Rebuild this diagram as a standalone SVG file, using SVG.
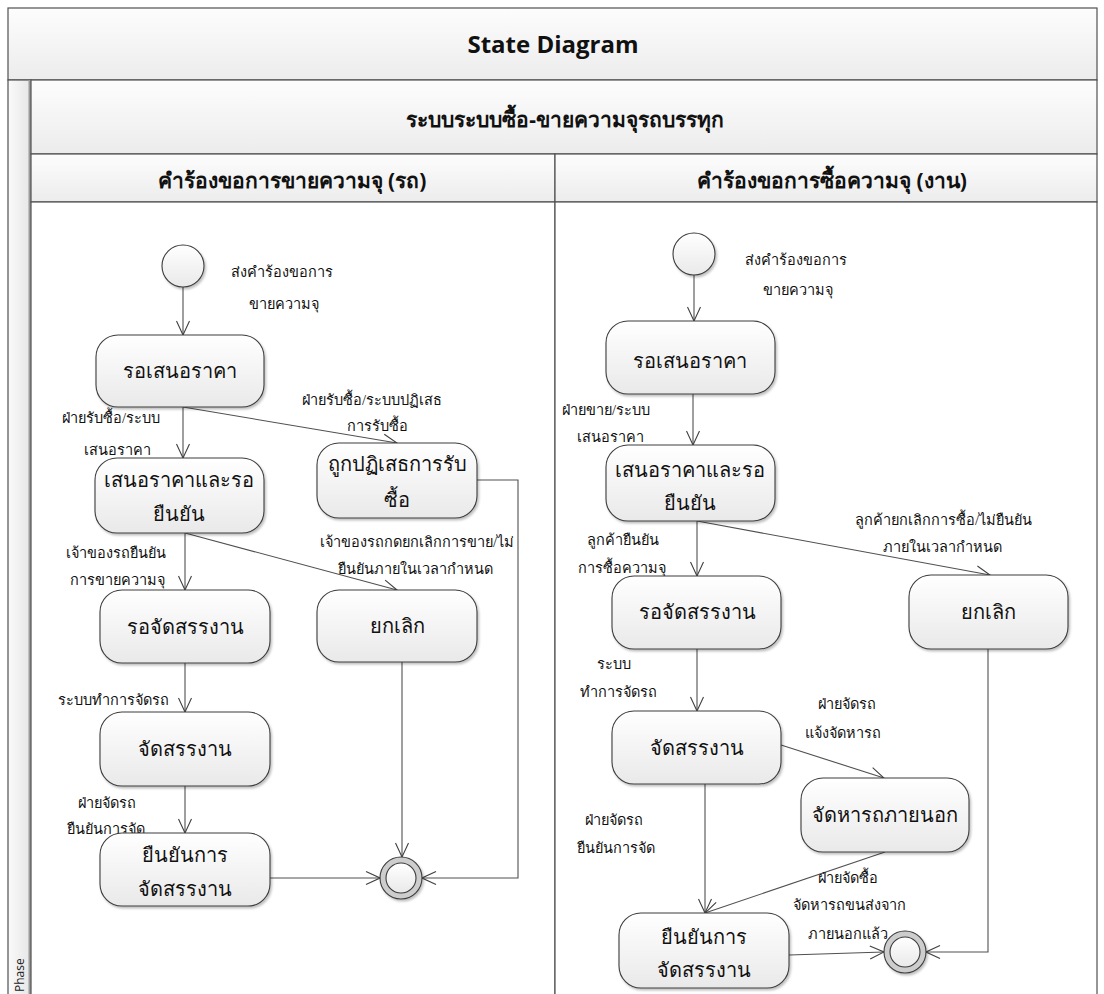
<svg xmlns="http://www.w3.org/2000/svg" width="1104" height="994" viewBox="0 0 1104 994">
  <defs>
    <linearGradient id="bandFill" x1="0" y1="0" x2="0" y2="1">
      <stop offset="0" stop-color="#fdfdfd"/>
      <stop offset="1" stop-color="#ececec"/>
    </linearGradient>
    <linearGradient id="sideFill" x1="0" y1="0" x2="1" y2="0">
      <stop offset="0" stop-color="#fafafa"/>
      <stop offset="1" stop-color="#e6e6e6"/>
    </linearGradient>
    <linearGradient id="stateFill" x1="0" y1="0" x2="0" y2="1">
      <stop offset="0" stop-color="#ffffff"/>
      <stop offset="1" stop-color="#e9e9e9"/>
    </linearGradient>
    <filter id="shadow" x="-10%" y="-10%" width="125%" height="130%">
      <feDropShadow dx="1.5" dy="2" stdDeviation="1.2" flood-color="#000" flood-opacity="0.25"/>
    </filter>
    <marker id="arrow" viewBox="0 0 16 16" refX="15" refY="8" markerWidth="16" markerHeight="16" markerUnits="userSpaceOnUse" orient="auto">
      <path d="M1,1.5 L15,8 L1,14.5" fill="none" stroke="#404040" stroke-width="1.1"/>
    </marker>
  </defs>
  <style>
    .band { fill: url(#bandFill); stroke: #505050; stroke-width: 1.2; }
    .lane { fill: #ffffff; stroke: #505050; stroke-width: 1.2; }
    .state { fill: url(#stateFill); stroke: #3c3c3c; stroke-width: 1.1; filter: url(#shadow); }
    .init { fill: url(#stateFill); stroke: #3c3c3c; stroke-width: 1.1; filter: url(#shadow); }
    .fin-outer { fill: #cdcdcd; stroke: #3c3c3c; stroke-width: 1.1; filter: url(#shadow); }
    .fin-inner { fill: url(#stateFill); stroke: #3c3c3c; stroke-width: 1.1; }
    .edge { fill: none; stroke: #505050; stroke-width: 1.1; marker-end: url(#arrow); }
    .title { font-family: "Open Sans", "Noto Sans", "Liberation Sans", sans-serif; font-weight: bold; font-size: 24px; fill: #111; text-anchor: middle; }
    .head { font-family: "Noto Sans", "Liberation Sans", sans-serif; font-weight: bold; font-size: 21px; fill: #111; text-anchor: middle; }
    .name { font-family: "Liberation Serif", "Noto Sans", serif; font-size: 20px; fill: #111; text-anchor: middle; }
    .lbl { font-family: "Liberation Serif", "Noto Sans", serif; font-size: 14.5px; fill: #111; }
    .phase { font-family: "Open Sans", "Noto Sans", sans-serif; font-size: 12px; fill: #222; }
  </style>

  <!-- swimlane frame -->
  <g id="frame">
    <rect class="band" x="8" y="8" width="1089" height="72"/>
    <rect x="8" y="80" width="23" height="920" fill="url(#sideFill)" stroke="#505050" stroke-width="1.2"/>
    <rect x="28.5" y="80" width="3" height="920" fill="#9a9a9a"/>
    <rect class="band" x="31" y="80" width="1066" height="74"/>
    <rect class="band" x="31" y="154" width="524" height="48"/>
    <rect class="band" x="555" y="154" width="542" height="48"/>
    <rect class="lane" x="31" y="202" width="524" height="800"/>
    <rect class="lane" x="555" y="202" width="542" height="800"/>
    <text class="title" x="553" y="53">State Diagram</text>
    <text class="head" x="565" y="127">ระบบระบบซื้อ-ขายความจุรถบรรทุก</text>
    <text class="head" x="292" y="188">คำร้องขอการขายความจุ (รถ)</text>
    <text class="head" x="832" y="188">คำร้องขอการซื้อความจุ (งาน)</text>
    <text class="phase" transform="translate(24,992) rotate(-90)">Phase</text>
  </g>

  <!-- transitions -->
  <g id="connectors">
    <!-- seller lane -->
    <line class="edge" x1="183" y1="287" x2="183" y2="335"/>
    <line class="edge" x1="183" y1="407" x2="183" y2="458"/>
    <line class="edge" x1="183" y1="407" x2="397" y2="443"/>
    <polyline class="edge" points="477,480 518,480 518,878 422,878"/>
    <line class="edge" x1="185" y1="533" x2="185" y2="590"/>
    <line class="edge" x1="185" y1="533" x2="397" y2="590"/>
    <line class="edge" x1="185" y1="663" x2="185" y2="712"/>
    <line class="edge" x1="185" y1="786" x2="185" y2="833"/>
    <line class="edge" x1="270" y1="878" x2="380" y2="878"/>
    <line class="edge" x1="402" y1="662" x2="402" y2="857"/>
    <!-- buyer lane -->
    <line class="edge" x1="694" y1="275" x2="694" y2="321"/>
    <line class="edge" x1="693" y1="394" x2="693" y2="445"/>
    <line class="edge" x1="697" y1="521" x2="697" y2="576"/>
    <line class="edge" x1="697" y1="521" x2="990" y2="575"/>
    <line class="edge" x1="697" y1="649" x2="697" y2="711"/>
    <line class="edge" x1="781" y1="745" x2="884" y2="778"/>
    <line class="edge" x1="705" y1="784" x2="705" y2="913"/>
    <line class="edge" x1="885" y1="852" x2="705" y2="913"/>
    <line class="edge" x1="789" y1="955" x2="884" y2="952"/>
    <polyline class="edge" points="988,649 988,952 926,952"/>
  </g>

  <!-- transition labels -->
  <g id="labels" class="lbl">
    <text x="231" y="277">ส่งคำร้องขอการ</text>
    <text x="249" y="309">ขายความจุ</text>
    <text x="62" y="423">ฝ่ายรับซื้อ/ระบบ</text>
    <text x="84" y="455">เสนอราคา</text>
    <text x="302" y="405">ฝ่ายรับซื้อ/ระบบปฏิเสธ</text>
    <text x="347" y="431">การรับซื้อ</text>
    <text x="66" y="558">เจ้าของรถยืนยัน</text>
    <text x="70" y="585">การขายความจุ</text>
    <text x="320" y="547">เจ้าของรถกดยกเลิกการขาย/ไม่</text>
    <text x="338" y="574">ยืนยันภายในเวลากำหนด</text>
    <text x="58" y="705">ระบบทำการจัดรถ</text>
    <text x="78" y="808">ฝ่ายจัดรถ</text>
    <text x="67" y="834">ยืนยันการจัด</text>

    <text x="745" y="265">ส่งคำร้องขอการ</text>
    <text x="763" y="295">ขายความจุ</text>
    <text x="562" y="415">ฝ่ายขาย/ระบบ</text>
    <text x="577" y="442">เสนอราคา</text>
    <text x="587" y="545">ลูกค้ายืนยัน</text>
    <text x="578" y="573">การซื้อความจุ</text>
    <text x="855" y="525">ลูกค้ายกเลิกการซื้อ/ไม่ยืนยัน</text>
    <text x="883" y="552">ภายในเวลากำหนด</text>
    <text x="597" y="669">ระบบ</text>
    <text x="580" y="697">ทำการจัดรถ</text>
    <text x="818" y="709">ฝ่ายจัดรถ</text>
    <text x="805" y="738">แจ้งจัดหารถ</text>
    <text x="585" y="825">ฝ่ายจัดรถ</text>
    <text x="577" y="853">ยืนยันการจัด</text>
    <text x="818" y="883">ฝ่ายจัดซื้อ</text>
    <text x="793" y="910">จัดหารถขนส่งจาก</text>
    <text x="808" y="939">ภายนอกแล้ว</text>
  </g>

  <!-- seller lane states -->
  <g id="s-start"><circle class="init" cx="183" cy="266" r="21"/></g>
  <g id="s-wait-quote">
    <rect class="state" x="96" y="335" width="168" height="72" rx="22"/>
    <text class="name" x="180" y="378">รอเสนอราคา</text>
  </g>
  <g id="s-quoted">
    <rect class="state" x="95" y="458" width="169" height="75" rx="22"/>
    <text class="name" x="179" y="487">เสนอราคาและรอ</text>
    <text class="name" x="179" y="521">ยืนยัน</text>
  </g>
  <g id="s-rejected">
    <rect class="state" x="317" y="443" width="160" height="75" rx="22"/>
    <text class="name" x="397" y="471">ถูกปฏิเสธการรับ</text>
    <text class="name" x="397" y="507">ซื้อ</text>
  </g>
  <g id="s-wait-assign">
    <rect class="state" x="100" y="590" width="170" height="73" rx="22"/>
    <text class="name" x="185" y="634">รอจัดสรรงาน</text>
  </g>
  <g id="s-cancel">
    <rect class="state" x="317" y="590" width="160" height="72" rx="22"/>
    <text class="name" x="397" y="633">ยกเลิก</text>
  </g>
  <g id="s-assign">
    <rect class="state" x="100" y="712" width="170" height="74" rx="22"/>
    <text class="name" x="185" y="756">จัดสรรงาน</text>
  </g>
  <g id="s-confirm">
    <rect class="state" x="100" y="833" width="170" height="73" rx="22"/>
    <text class="name" x="185" y="862">ยืนยันการ</text>
    <text class="name" x="185" y="896">จัดสรรงาน</text>
  </g>
  <g id="s-end">
    <circle class="fin-outer" cx="401" cy="878" r="21"/>
    <circle class="fin-inner" cx="401" cy="878" r="15"/>
  </g>

  <!-- buyer lane states -->
  <g id="b-start"><circle class="init" cx="694" cy="254" r="21"/></g>
  <g id="b-wait-quote">
    <rect class="state" x="606" y="321" width="169" height="73" rx="22"/>
    <text class="name" x="690" y="368">รอเสนอราคา</text>
  </g>
  <g id="b-quoted">
    <rect class="state" x="606" y="445" width="169" height="76" rx="22"/>
    <text class="name" x="690" y="477">เสนอราคาและรอ</text>
    <text class="name" x="690" y="510">ยืนยัน</text>
  </g>
  <g id="b-wait-assign">
    <rect class="state" x="612" y="576" width="169" height="73" rx="22"/>
    <text class="name" x="697" y="619">รอจัดสรรงาน</text>
  </g>
  <g id="b-cancel">
    <rect class="state" x="909" y="575" width="159" height="74" rx="22"/>
    <text class="name" x="988" y="619">ยกเลิก</text>
  </g>
  <g id="b-assign">
    <rect class="state" x="612" y="711" width="169" height="73" rx="22"/>
    <text class="name" x="697" y="755">จัดสรรงาน</text>
  </g>
  <g id="b-outsource">
    <rect class="state" x="801" y="778" width="168" height="74" rx="22"/>
    <text class="name" x="885" y="822">จัดหารถภายนอก</text>
  </g>
  <g id="b-confirm">
    <rect class="state" x="619" y="913" width="170" height="75" rx="22"/>
    <text class="name" x="704" y="944">ยืนยันการ</text>
    <text class="name" x="704" y="977">จัดสรรงาน</text>
  </g>
  <g id="b-end">
    <circle class="fin-outer" cx="905" cy="952" r="21"/>
    <circle class="fin-inner" cx="905" cy="952" r="15"/>
  </g>
</svg>
